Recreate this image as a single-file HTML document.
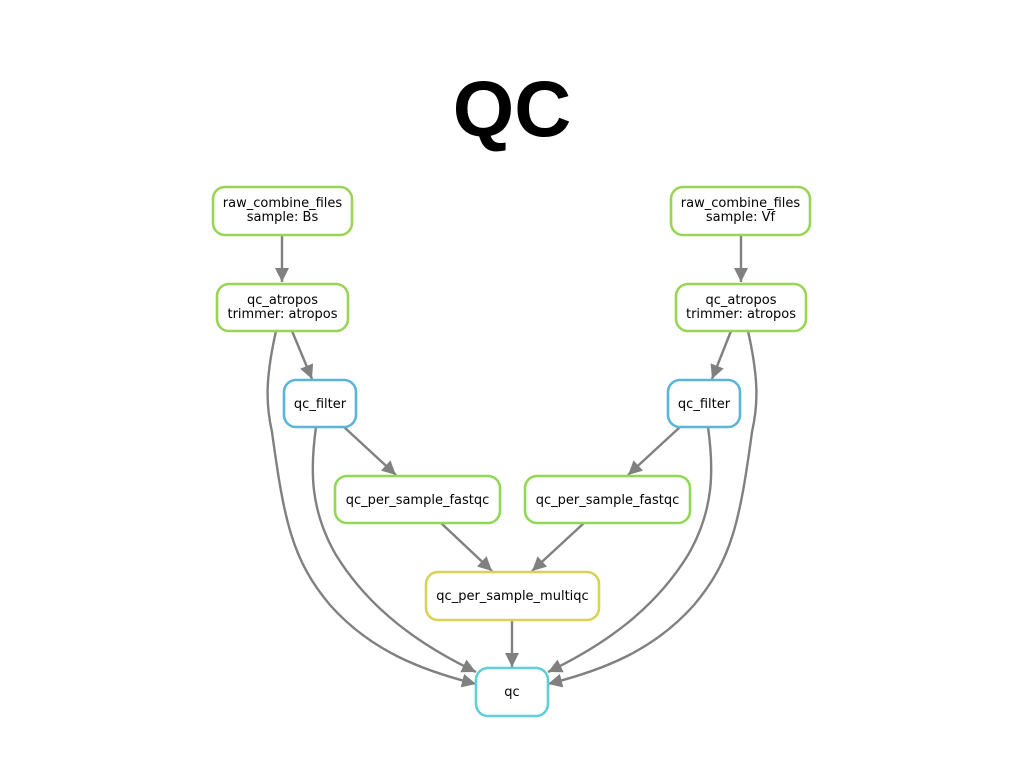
<!DOCTYPE html>
<html><head><meta charset="utf-8"><style>
html,body{margin:0;padding:0;background:#fff;}
svg{display:block}
text{font-family:"DejaVu Sans","Liberation Sans",sans-serif;font-size:13px;fill:#000;}
</style></head><body>
<svg width="1024" height="768" viewBox="0 0 1024 768" xmlns="http://www.w3.org/2000/svg">
<defs>
<marker id="b" viewBox="0 0 10 10" markerWidth="16" markerHeight="14" refX="10" refY="5" orient="auto" markerUnits="userSpaceOnUse">
<path d="M0,0 L10,5 L0,10 z" fill="#808080"/>
</marker>
</defs>
<text x="512" y="136" text-anchor="middle" style="font-family:'Liberation Sans',sans-serif;font-size:79px;font-weight:bold">QC</text>
<g fill="none" stroke="#808080" stroke-width="2.4">
<path d="M282,235 V282" marker-end="url(#b)"/>
<path d="M741,235 V282" marker-end="url(#b)"/>
<path d="M292,331 L312,379" marker-end="url(#b)"/>
<path d="M731,331 L712,379" marker-end="url(#b)"/>
<path d="M344,427 L396,475" marker-end="url(#b)"/>
<path d="M680,427 L628,475" marker-end="url(#b)"/>
<path d="M441,523 L492,571" marker-end="url(#b)"/>
<path d="M584,523 L532,571" marker-end="url(#b)"/>
<path d="M512,620 V667" marker-end="url(#b)"/>
<path d="M276,331 C265,380 266,405 272,432 C284,520 292,560 330,605 C370,650 420,670 476,684" marker-end="url(#b)"/>
<path d="M316,427 C310,470 310,510 336,555 C370,610 420,645 476,672" marker-end="url(#b)"/>
<path d="M748,331 C759,380 758,405 752,432 C740,520 732,560 694,605 C654,650 604,670 548,684" marker-end="url(#b)"/>
<path d="M708,427 C714,470 714,510 688,555 C654,610 604,645 548,672" marker-end="url(#b)"/>
</g>
<g fill="#fff" stroke-width="2.6">
<rect x="213" y="187" width="139" height="48" rx="12" stroke="#9ad455"/>
<rect x="671" y="187" width="139" height="48" rx="12" stroke="#9ad455"/>
<rect x="217" y="284" width="131" height="47" rx="12" stroke="#9ad455"/>
<rect x="676" y="284" width="130" height="47" rx="12" stroke="#9ad455"/>
<rect x="284" y="380" width="72" height="47" rx="12" stroke="#5bb5d8"/>
<rect x="668" y="380" width="72" height="47" rx="12" stroke="#5bb5d8"/>
<rect x="335" y="476" width="165" height="47" rx="12" stroke="#90d855"/>
<rect x="525" y="476" width="165" height="47" rx="12" stroke="#90d855"/>
<rect x="426" y="572" width="173" height="48" rx="12" stroke="#d6d355"/>
<rect x="476" y="668" width="72" height="48" rx="12" stroke="#5dcfd8"/>
</g>
<g text-anchor="middle">
<text x="282.5" y="207">raw_combine_files</text><text x="282.5" y="221">sample: Bs</text>
<text x="740.5" y="207">raw_combine_files</text><text x="740.5" y="221">sample: Vf</text>
<text x="282.5" y="304">qc_atropos</text><text x="282.5" y="318">trimmer: atropos</text>
<text x="741" y="304">qc_atropos</text><text x="741" y="318">trimmer: atropos</text>
<text x="320" y="408">qc_filter</text>
<text x="704" y="408">qc_filter</text>
<text x="417.5" y="504">qc_per_sample_fastqc</text>
<text x="607.5" y="504">qc_per_sample_fastqc</text>
<text x="512.5" y="600">qc_per_sample_multiqc</text>
<text x="512" y="696">qc</text>
</g>
</svg>
</body></html>
